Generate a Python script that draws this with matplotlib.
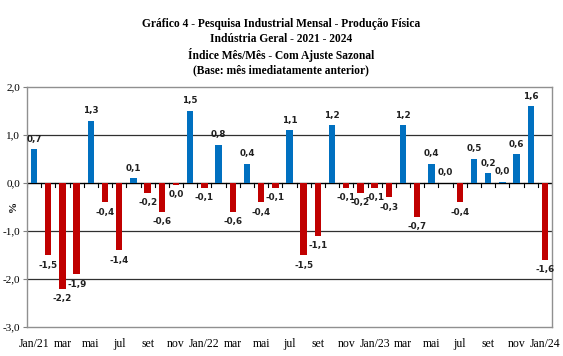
import matplotlib
matplotlib.use("Agg")
import matplotlib.pyplot as plt
import numpy as np

months = ["Jan/21", "fev", "mar", "abr", "mai", "jun", "jul", "ago", "set", "out", "nov", "dez",
          "Jan/22", "fev", "mar", "abr", "mai", "jun", "jul", "ago", "set", "out", "nov", "dez",
          "Jan/23", "fev", "mar", "abr", "mai", "jun", "jul", "ago", "set", "out", "nov", "dez",
          "Jan/24"]
values = [0.7, -1.5, -2.2, -1.9, 1.3, -0.4, -1.4, 0.1, -0.2, -0.6, -0.04, 1.5,
          -0.1, 0.8, -0.6, 0.4, -0.4, -0.1, 1.1, -1.5, -1.1, 1.2, -0.1, -0.2,
          -0.1, -0.3, 1.2, -0.7, 0.4, 0.0, -0.4, 0.5, 0.2, 0.03, 0.6, 1.6,
          -1.6]
yticks = [2.0, 1.0, 0.0, -1.0, -2.0, -3.0]
title_lines = ["Gráfico 4 - Pesquisa Industrial Mensal - Produção Física",
               "Indústria Geral - 2021 - 2024",
               "Índice Mês/Mês - Com Ajuste Sazonal",
               "(Base: mês imediatamente anterior)"]

BLUE = "#0070C0"
RED = "#C00000"

fig = plt.figure(figsize=(5.63, 3.56), dpi=100)
ax = fig.add_axes([27/563, 1-327/356, (552-27)/563, (327-87)/356])

x = np.arange(len(values))
colors = [BLUE if v >= 0 else RED for v in values]
ax.bar(x, values, width=0.45, color=colors, zorder=3)

def fmt(v):
    s = f"{abs(v):.1f}".replace(".", ",")
    if round(v, 1) < 0:
        s = "-" + s
    return s

for xi, v in zip(x, values):
    if v >= 0:
        ax.annotate(fmt(v), (xi, v), xytext=(0, 4), textcoords="offset points",
                    ha="center", va="bottom", fontsize=6.3, fontweight="bold",
                    color="#202020", zorder=4)
    else:
        ax.annotate(fmt(v), (xi, v), xytext=(0, -4), textcoords="offset points",
                    ha="center", va="top", fontsize=6.3, fontweight="bold",
                    color="#202020", zorder=4)

ax.set_xlim(-0.5, len(values) - 0.5)
ax.set_ylim(-3, 2)
ax.set_yticks(yticks)
ax.set_yticklabels([f"{t:.1f}".replace(".", ",") for t in yticks],
                   fontfamily="Liberation Serif", fontsize=8)
ax.tick_params(axis="y", length=3, color="#808080", pad=2)

ax.set_xticks(x[::2])
ax.set_xticklabels(months[::2], fontfamily="Liberation Serif", fontsize=8.5)
ax.tick_params(axis="x", length=0, pad=8)

for t in [1.0, -1.0, -2.0]:
    ax.axhline(t, color="#303030", lw=0.9, zorder=1)
ax.axhline(0, color="#000000", lw=1.0, zorder=2)
# category boundary tick marks on zero line
for b in np.arange(-0.5, len(values), 1.0):
    ax.plot([b, b], [0, -0.08], color="#000000", lw=0.8, zorder=2)

for s in ax.spines.values():
    s.set_color("#909090")
    s.set_linewidth(1.0)

fig.text(13/563, 1-207/356, "%", rotation=90, ha="center", va="center",
         fontfamily="Liberation Serif", fontsize=8, fontweight="bold")

for ypx, line in zip([22, 37.5, 53, 68.5], title_lines):
    fig.text(281/563, 1-ypx/356, line, ha="center", va="center_baseline",
             fontfamily="Liberation Serif", fontweight="bold", fontsize=8.3)

fig.savefig("out.png", dpi=100)
